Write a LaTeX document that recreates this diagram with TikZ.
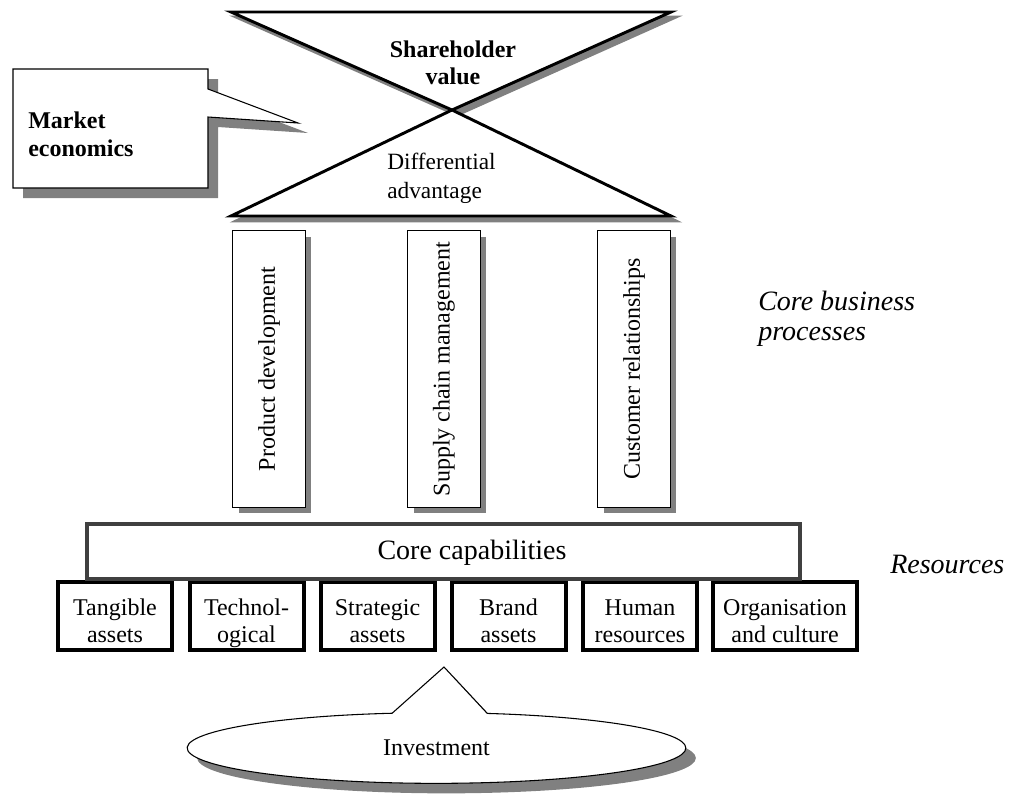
\documentclass[tikz,border=0pt]{standalone}
\usepackage{fontspec}
\setmainfont{Liberation Serif}
\usetikzlibrary{backgrounds,shapes.callouts,shadows}
\newcommand{\shadowcol}{gray}
\newcommand{\thinline}{0.8pt}
\newcommand{\thickline}{2.2pt}
\newcommand{\boxline}{3pt}

\begin{document}
\begin{tikzpicture}[x=0.75pt,y=-0.75pt,
  shade/.style={drop shadow={shadow xshift=#1, shadow yshift=-#1, fill=\shadowcol, opacity=1}},
  pillar/.style={draw,fill=white,line width=1.1pt,minimum width=54.4pt,minimum height=207.4pt,inner sep=0pt,shade=4.5pt,font=\fontsize{18}{21}\selectfont},
  resbox/.style={draw,fill=white,line width=\boxline,minimum width=85.5pt,minimum height=51pt,inner sep=0pt,align=center,text height=39.7pt,text depth=0pt,font=\fontsize{18}{20.6}\selectfont},
  sidelabel/.style={anchor=west,align=left,inner sep=0pt,font=\itshape\fontsize{21}{22.5}\selectfont}]
\useasboundingbox (0,0) rectangle (1016,796);
%hourglass
\coordinate (tl) at (231,12);
\coordinate (tr) at (671,12);
\coordinate (x) at (452,110);
\coordinate (bl) at (231,216);
\coordinate (br) at (671,216);
\begin{scope}[on background layer]
\filldraw[\shadowcol, line width=\thickline] ([shift={(5,5)}]tl) -- ([shift={(5,5)}]tr) -- ([shift={(5,5)}]x) -- cycle;
\filldraw[\shadowcol, line width=\thickline] ([shift={(5,5)}]x) -- ([shift={(5,5)}]br) -- ([shift={(5,5)}]bl) -- cycle;
\end{scope}
\filldraw[fill=white, line width=\thickline] (tl) -- (tr) -- (x) -- cycle;
\filldraw[fill=white, line width=\thickline] (x) -- (br) -- (bl) -- cycle;
\node[align=center, inner sep=0pt, font=\bfseries\fontsize{18}{20.5}\selectfont] (sv) at (453,63) {Shareholder\\value};
\node[anchor=west, align=left, inner sep=0pt, font=\fontsize{17.5}{22}\selectfont] (da) at (387,178) {Differential\\advantage};
%callout
\coordinate (m1) at (13,69);
\coordinate (m2) at (208,69);
\coordinate (m3) at (208,89);
\coordinate (tip) at (298,123);
\coordinate (m4) at (208,117);
\coordinate (m5) at (208,188);
\coordinate (m6) at (13,188);
\begin{scope}[on background layer]
\fill[\shadowcol] ([shift={(10,10)}]m1) -- ([shift={(10,10)}]m2) -- ([shift={(10,10)}]m3) -- ([shift={(10,10)}]tip) -- ([shift={(10,10)}]m4) -- ([shift={(10,10)}]m5) -- ([shift={(10,10)}]m6) -- cycle;
\end{scope}
\filldraw[fill=white, line width=\thinline] (m1) -- (m2) -- (m3) -- (tip) -- (m4) -- (m5) -- (m6) -- cycle;
\node[anchor=west, align=left, inner sep=0pt, font=\bfseries\fontsize{18}{21}\selectfont] (me) at (28,134) {Market\\economics};
%processes
\node[pillar] (pd) at (269,369) {\rotatebox{90}{Product development}};
\node[pillar] (sc) at (444,369) {\rotatebox{90}{Supply chain management}};
\node[pillar] (cr) at (634,369) {\rotatebox{90}{Customer relationships}};
\node[sidelabel] (cbp) at (758,319) {Core business\\processes};
%resources
\node[resbox] (ta) at (115,616) {Tangible\\assets};
\node[resbox] (te) at (246.5,616) {Technol-\\ogical};
\node[resbox] (sa) at (377.5,616) {Strategic\\assets};
\node[resbox] (ba) at (508.5,616) {Brand\\assets};
\node[resbox] (hr) at (640,616) {Human\\resources};
\node[resbox, minimum width=108pt] (oc) at (785,616) {Organisation\\and culture};
\node[draw=black!75, fill=white, line width=\boxline, minimum width=535pt, minimum height=41pt, inner sep=0pt] (cc) at (443.5,551.5) {};
\node[font=\fontsize{21}{24}\selectfont, inner sep=0pt] (cclabel) at (472,553) {Core capabilities};
\node[sidelabel] (rs) at (890,564) {Resources};
%investment
\node[ellipse callout, draw, fill=white, line width=\thinline, minimum width=374pt, minimum height=53pt, inner sep=0pt,
  callout absolute pointer={(444,667)}, callout pointer arc=22, shade=7.5pt,
  font=\fontsize{18}{20}\selectfont] (inv) at (436.5,748) {Investment};
\end{tikzpicture}
\end{document}
